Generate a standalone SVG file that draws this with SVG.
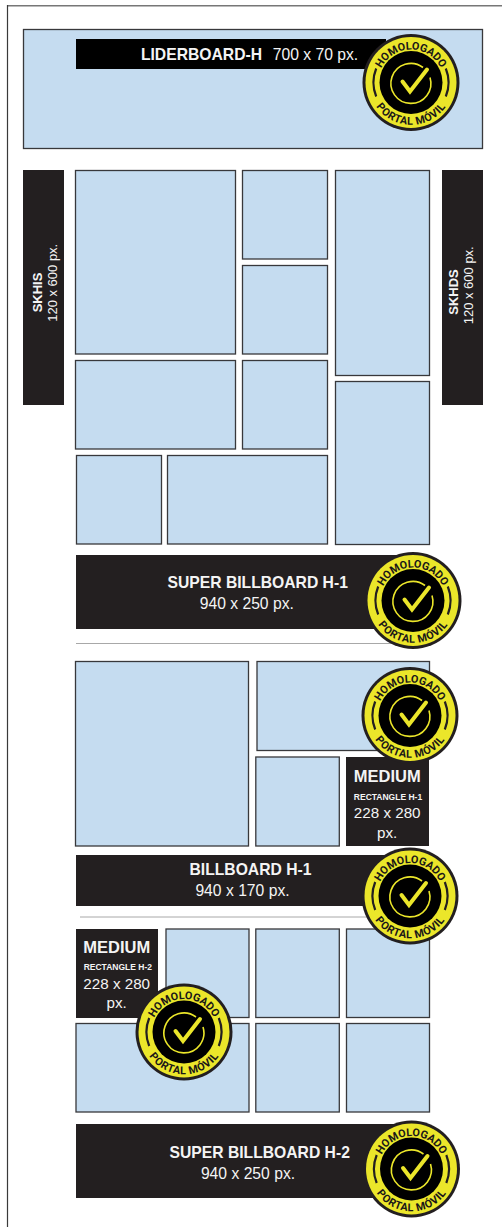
<svg xmlns="http://www.w3.org/2000/svg" width="502" height="1227" viewBox="0 0 502 1227">
<style>
.s{fill:#c5dcf0;stroke:#38383b;stroke-width:1.3}
.d{fill:#231f20}
.t{font-family:"Liberation Sans",Arial,sans-serif;fill:#f4f4f4;text-anchor:middle}
.b{font-weight:700}
.bt{font-family:Roboto,"Open Sans",sans-serif;font-weight:700;font-size:10.8px;fill:#1a1718}
.bb{letter-spacing:.5px}
.o{fill:#231f20}.y{fill:#ebe62a}.k{fill:#000}
.a{fill:none;stroke:#231f20;stroke-width:2.2}
.c{fill:none;stroke:#ebe62a;stroke-width:1.6}
.m{fill:none;stroke:#ebe62a;stroke-width:4;stroke-linecap:round;stroke-linejoin:miter}
.l{stroke:#a8a8a8;stroke-width:1;fill:none}
</style>
<defs>
<path id="top" d="M-31.900,-8.500A33,33 0 0 1 31.900,-8.500"/>
<path id="bot" d="M-41,11A42.500,42.500 0 0 0 41,11"/>
</defs>
<path id="frame-top" d="M7,5.800H502" fill="none" stroke="#777" stroke-width="1.6"/>
<path id="frame-left" d="M7.500,5V1227" fill="none" stroke="#3a3a3a" stroke-width="1.2"/>
<g id="connectors"><path class="l" d="M76,643.500H400"/><path class="l" d="M80,917H380"/></g>
<g id="liderboard"><rect class="s" x="23.500" y="29.500" width="459" height="119"/><rect x="76" y="39" width="310" height="30" fill="#000"/>
<text class="t b" x="201.500" y="60" font-size="15.700">LIDERBOARD-H</text><text class="t" x="315.500" y="60" font-size="15.700">700 x 70 px.</text></g>
<g id="skhis"><rect class="d" x="23" y="170" width="41" height="235"/><text class="t b" transform="translate(41.700,292.500) rotate(-90)" font-size="13">SKHIS</text><text class="t" transform="translate(57.300,282.800) rotate(-90)" font-size="13">120 x 600 px.</text></g>
<g id="skhds"><rect class="d" x="442" y="170" width="41" height="235"/><text class="t b" transform="translate(458.300,292) rotate(-90)" font-size="13">SKHDS</text><text class="t" transform="translate(473.300,285.300) rotate(-90)" font-size="13">120 x 600 px.</text></g>
<g id="grid-1">
<rect class="s" x="75.500" y="170.500" width="160" height="183.500"/>
<rect class="s" x="242.500" y="170.500" width="85" height="88.500"/>
<rect class="s" x="242.500" y="265.500" width="85" height="88.500"/>
<rect class="s" x="335.500" y="170.500" width="94" height="205"/>
<rect class="s" x="335.500" y="381.500" width="94" height="163"/>
<rect class="s" x="75.500" y="360.500" width="160" height="88.500"/>
<rect class="s" x="242.500" y="360.500" width="85" height="88.500"/>
<rect class="s" x="76.500" y="455.500" width="85" height="88.500"/>
<rect class="s" x="167.500" y="455.500" width="160" height="88.500"/>
</g>
<g id="super-1"><rect class="d" x="76" y="555" width="324" height="74"/><text class="t b" x="257.700" y="588.300" font-size="15.700">SUPER BILLBOARD H-1</text><text class="t" x="246.800" y="609" font-size="15.700">940 x 250 px.</text></g>
<g id="grid-2">
<rect class="s" x="75.500" y="661.500" width="173" height="184.500"/>
<rect class="s" x="257" y="661.500" width="172.500" height="89"/>
<rect class="s" x="255.800" y="757" width="83.500" height="89"/>
</g>
<g id="medium-1"><rect class="d" x="346" y="757" width="83" height="89"/><text class="t b" x="387.200" y="782" font-size="16.500">MEDIUM</text><text class="t b" x="388" y="800" font-size="8.500">RECTANGLE H-1</text><text class="t" x="387.200" y="818" font-size="15.200">228 x 280</text><text class="t" x="387.200" y="837.500" font-size="15.200">px.</text></g>
<g id="billboard-1"><rect class="d" x="76" y="855" width="324" height="51"/><text class="t b" x="250.500" y="875" font-size="15.700">BILLBOARD H-1</text><text class="t" x="242.500" y="896" font-size="15.700">940 x 170 px.</text></g>
<g id="grid-3">
<rect class="s" x="166" y="929" width="83" height="88.500"/>
<rect class="s" x="255.800" y="929" width="83.500" height="88.500"/>
<rect class="s" x="346.500" y="929" width="83" height="88.500"/>
<rect class="s" x="76" y="1023.500" width="173" height="88.500"/>
<rect class="s" x="255.800" y="1023.500" width="83.500" height="88.500"/>
<rect class="s" x="346.500" y="1023.500" width="83" height="88.500"/>
</g>
<g id="medium-2"><rect class="d" x="76" y="929" width="82" height="89"/><text class="t b" x="116.700" y="953" font-size="16.500">MEDIUM</text><text class="t b" x="117.800" y="970" font-size="8.500">RECTANGLE H-2</text><text class="t" x="116.700" y="989" font-size="15.200">228 x 280</text><text class="t" x="116.700" y="1008" font-size="15.200">px.</text></g>
<g id="super-2"><rect class="d" x="76" y="1124" width="324" height="74"/><text class="t b" x="259.700" y="1158" font-size="15.700">SUPER BILLBOARD H-2</text><text class="t" x="248" y="1179" font-size="15.700">940 x 250 px.</text></g>
<g id="badge-1" transform="translate(411,82.500)"><circle class="o" r="48.500"/><circle class="y" r="45.500"/><circle class="k" r="31.500"/><path class="a" d="M-34.800,-14A37.500,37.500 0 0 0 -34.800,14M34.800,-14A37.500,37.500 0 0 1 34.800,14"/><path class="c" d="M12,-15A20,20 0 1 0 19,-5"/><path class="m" d="M-8.500,-1L-1,9L16,-13"/><text class="bt"><textPath href="#top" startOffset="50%" text-anchor="middle">HOMOLOGADO</textPath></text><text class="bt bb"><textPath href="#bot" startOffset="50%" text-anchor="middle">PORTAL MÓVIL</textPath></text></g>
<g id="badge-2" transform="translate(413,600.500)"><circle class="o" r="48.500"/><circle class="y" r="45.500"/><circle class="k" r="31.500"/><path class="a" d="M-34.800,-14A37.500,37.500 0 0 0 -34.800,14M34.800,-14A37.500,37.500 0 0 1 34.800,14"/><path class="c" d="M12,-15A20,20 0 1 0 19,-5"/><path class="m" d="M-8.500,-1L-1,9L16,-13"/><text class="bt"><textPath href="#top" startOffset="50%" text-anchor="middle">HOMOLOGADO</textPath></text><text class="bt bb"><textPath href="#bot" startOffset="50%" text-anchor="middle">PORTAL MÓVIL</textPath></text></g>
<g id="badge-3" transform="translate(410,715.500)"><circle class="o" r="48.500"/><circle class="y" r="45.500"/><circle class="k" r="31.500"/><path class="a" d="M-34.800,-14A37.500,37.500 0 0 0 -34.800,14M34.800,-14A37.500,37.500 0 0 1 34.800,14"/><path class="c" d="M12,-15A20,20 0 1 0 19,-5"/><path class="m" d="M-8.500,-1L-1,9L16,-13"/><text class="bt"><textPath href="#top" startOffset="50%" text-anchor="middle">HOMOLOGADO</textPath></text><text class="bt bb"><textPath href="#bot" startOffset="50%" text-anchor="middle">PORTAL MÓVIL</textPath></text></g>
<g id="badge-4" transform="translate(410,896)"><circle class="o" r="48.500"/><circle class="y" r="45.500"/><circle class="k" r="31.500"/><path class="a" d="M-34.800,-14A37.500,37.500 0 0 0 -34.800,14M34.800,-14A37.500,37.500 0 0 1 34.800,14"/><path class="c" d="M12,-15A20,20 0 1 0 19,-5"/><path class="m" d="M-8.500,-1L-1,9L16,-13"/><text class="bt"><textPath href="#top" startOffset="50%" text-anchor="middle">HOMOLOGADO</textPath></text><text class="bt bb"><textPath href="#bot" startOffset="50%" text-anchor="middle">PORTAL MÓVIL</textPath></text></g>
<g id="badge-5" transform="translate(184,1032)"><circle class="o" r="48.500"/><circle class="y" r="45.500"/><circle class="k" r="31.500"/><path class="a" d="M-34.800,-14A37.500,37.500 0 0 0 -34.800,14M34.800,-14A37.500,37.500 0 0 1 34.800,14"/><path class="c" d="M12,-15A20,20 0 1 0 19,-5"/><path class="m" d="M-8.500,-1L-1,9L16,-13"/><text class="bt"><textPath href="#top" startOffset="50%" text-anchor="middle">HOMOLOGADO</textPath></text><text class="bt bb"><textPath href="#bot" startOffset="50%" text-anchor="middle">PORTAL MÓVIL</textPath></text></g>
<g id="badge-6" transform="translate(411.500,1169)"><circle class="o" r="48.500"/><circle class="y" r="45.500"/><circle class="k" r="31.500"/><path class="a" d="M-34.800,-14A37.500,37.500 0 0 0 -34.800,14M34.800,-14A37.500,37.500 0 0 1 34.800,14"/><path class="c" d="M12,-15A20,20 0 1 0 19,-5"/><path class="m" d="M-8.500,-1L-1,9L16,-13"/><text class="bt"><textPath href="#top" startOffset="50%" text-anchor="middle">HOMOLOGADO</textPath></text><text class="bt bb"><textPath href="#bot" startOffset="50%" text-anchor="middle">PORTAL MÓVIL</textPath></text></g>
</svg>
